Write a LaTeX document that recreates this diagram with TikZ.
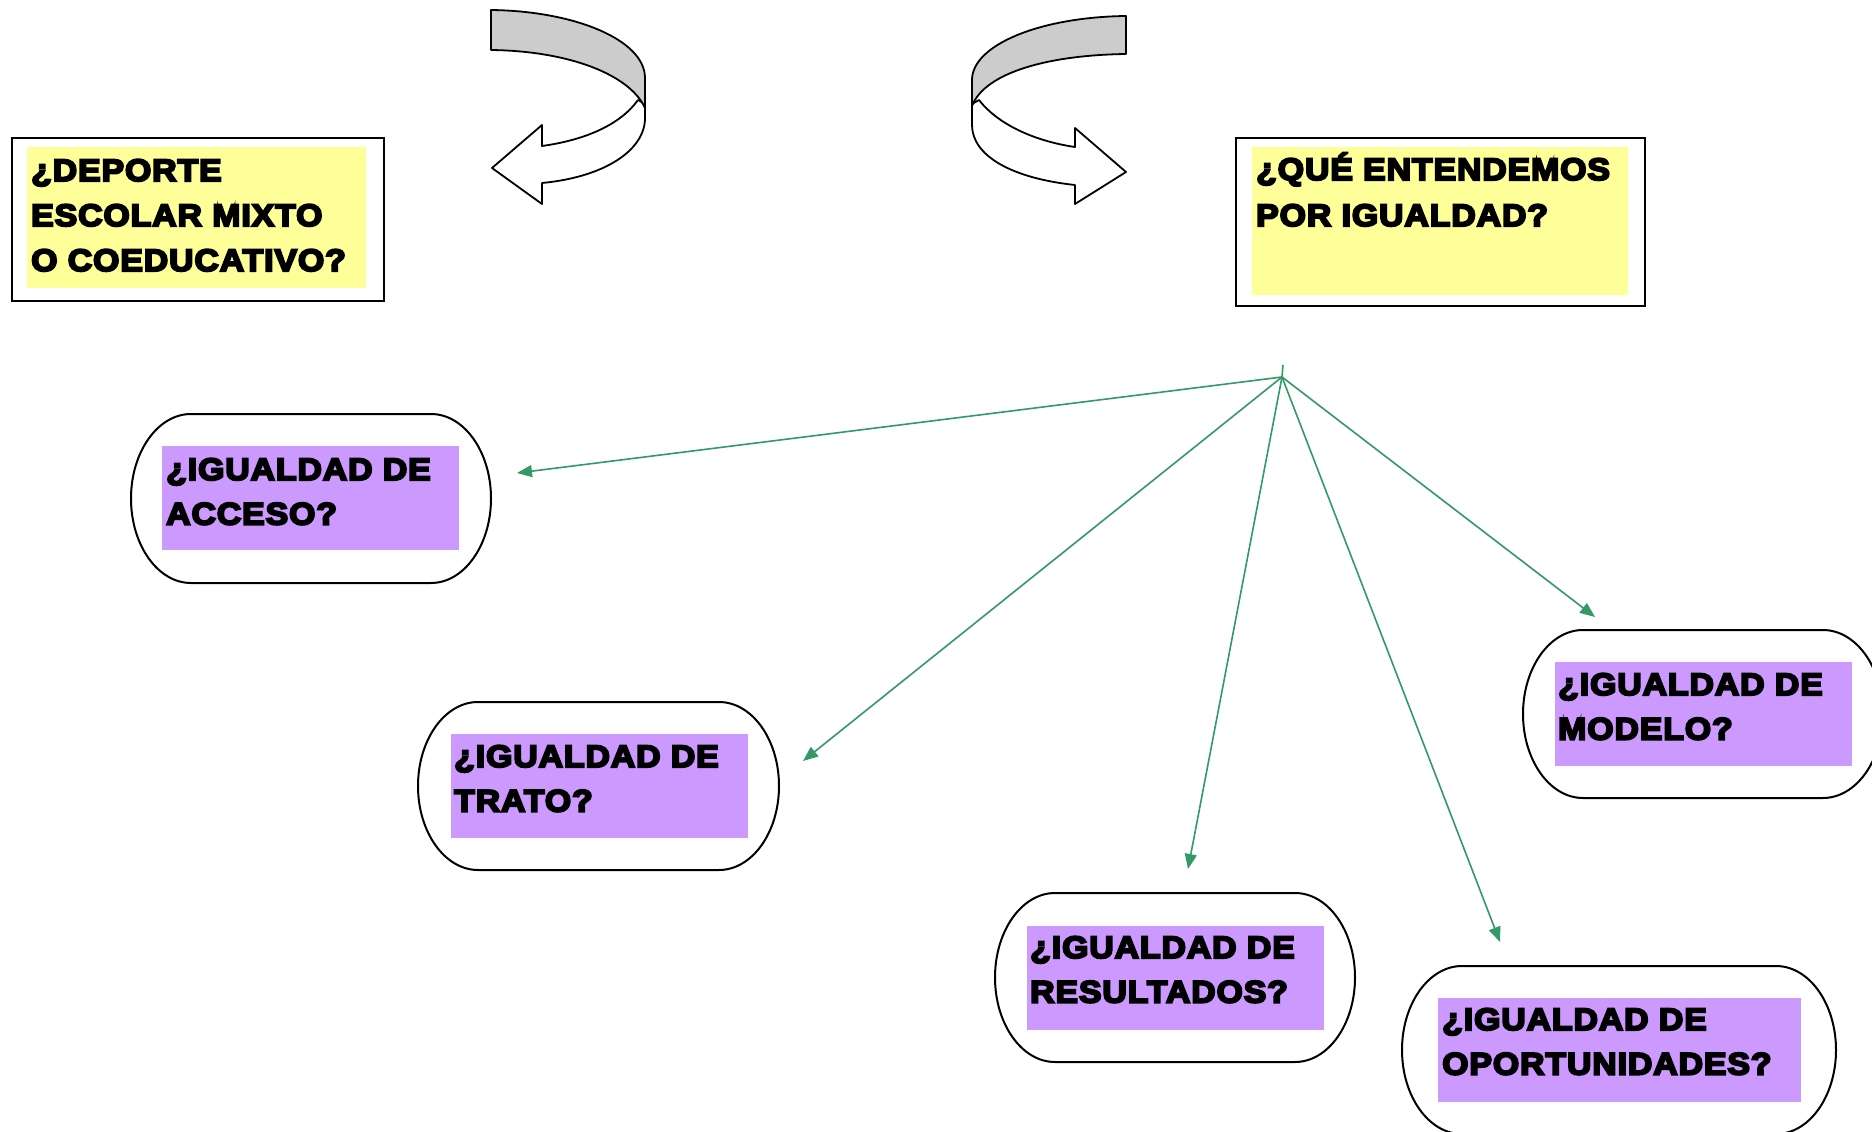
\documentclass[tikz,border=0pt]{standalone}
\usepackage{fontspec}
\usetikzlibrary{arrows.meta}
\newfontfamily\heavy{Liberation Sans Bold}[FakeBold=6.5,FakeStretch=1.09,LetterSpace=3]
\definecolor{yel}{HTML}{FFFF99}
\definecolor{pur}{HTML}{CC99FF}
\definecolor{grn}{HTML}{339966}
\definecolor{gry}{HTML}{CCCCCC}
\newcommand\mystadium[4]{%
 \pgfmathsetmacro\sa{#1+60}\pgfmathsetmacro\sb{#3-60}%
 \pgfmathsetmacro\ym{(#2+#4)/2}%
 \pgfmathsetmacro\ka{#1+60-33.1}\pgfmathsetmacro\kb{#3-60+33.1}%
 \pgfmathsetmacro\rk{(#4-#2)/2*0.5523}%
 \pgfmathsetmacro\yu{\ym-\rk}\pgfmathsetmacro\yd{\ym+\rk}%
 \draw[stadline] (\sa,#2) -- (\sb,#2) .. controls (\kb,#2) and (#3,\yu) .. (#3,\ym)
   .. controls (#3,\yd) and (\kb,#4) .. (\sb,#4) -- (\sa,#4)
   .. controls (\ka,#4) and (#1,\yd) .. (#1,\ym) .. controls (#1,\yu) and (\ka,#2) .. cycle;}
\begin{document}
\begin{tikzpicture}[x=1pt,y=-1pt,
  outerbox/.style={draw=black,line width=2pt,fill=white,anchor=north west,inner sep=0pt},
  yelbox/.style={fill=yel,anchor=north west,inner sep=0pt},
  purbox/.style={fill=pur,anchor=north west,inner sep=0pt},
  stadline/.style={draw=black,line width=2pt,fill=white},
  txt/.style={anchor=base west,inner sep=0pt,font=\heavy\fontsize{31}{44.5}\selectfont},
  conn/.style={draw=grn,line width=1.6pt,-{Triangle[length=15pt,width=12pt]}},
  band/.style={draw=black,line width=1.8pt,line join=round}]
\useasboundingbox (0,0) rectangle (1872,1132);
\clip (0,0) rectangle (1872,1132);
\fill[white] (0,0) rectangle (1872,1132);

% curved arrow left
\path[band,fill=white] (638,100) .. controls (620,125) and (585,140) .. (542,146) -- (542,125) -- (492,168)
  -- (542,204) -- (542,183) .. controls (605,177) and (645,150) .. (645,118) -- (645,104) -- cycle;
\path[band,fill=gry] (491,10) .. controls (575,11) and (645,40) .. (645,78) -- (645,108)
  .. controls (630,75) and (570,51) .. (491,50) -- cycle;
% curved arrow right
\path[band,fill=white] (979,100) .. controls (1000,127) and (1040,142) .. (1075,147) -- (1075,128) -- (1126,172)
  -- (1075,204) -- (1075,185) .. controls (1010,178) and (972,155) .. (972,125) -- (972,104) -- cycle;
\path[band,fill=gry] (1126,16) .. controls (1040,17) and (972,45) .. (972,80) -- (972,106)
  .. controls (985,72) and (1050,55) .. (1126,54) -- cycle;

% top boxes
\node[outerbox,minimum width=372pt,minimum height=163pt] (deporte) at (11,137) {};
\node[yelbox,minimum width=339pt,minimum height=141pt] (deporteY) at (27,147) {};
\node[txt] (deporteT) at (31,181) {\vtop{\baselineskip=45pt\hbox{¿DEPORTE}\hbox{ESCOLAR MIXTO}\hbox{O COEDUCATIVO?}}};

\node[outerbox,minimum width=409pt,minimum height=168pt] (igualdad) at (1235,137) {};
\node[yelbox,minimum width=376pt,minimum height=148pt] (igualdadY) at (1252,147) {};
\node[txt] (igualdadT) at (1256,180) {\vtop{\baselineskip=46pt\hbox{¿QUÉ ENTENDEMOS}\hbox{POR IGUALDAD?}}};

% stadiums
\mystadium{131}{414}{491}{583}
\node[purbox,minimum width=297pt,minimum height=104pt] (accesoP) at (162,446) {};
\node[txt] (acceso) at (166,480) {\vtop{\baselineskip=44.5pt\hbox{¿IGUALDAD DE}\hbox{ACCESO?}}};

\mystadium{418}{702}{779}{870}
\node[purbox,minimum width=297pt,minimum height=104pt] (tratoP) at (451,734) {};
\node[txt] (trato) at (454,767) {\vtop{\baselineskip=44.5pt\hbox{¿IGUALDAD DE}\hbox{TRATO?}}};

\mystadium{995}{893}{1355}{1062}
\node[purbox,minimum width=297pt,minimum height=104pt] (resultadosP) at (1027,926) {};
\node[txt] (resultados) at (1030,958) {\vtop{\baselineskip=44.5pt\hbox{¿IGUALDAD DE}\hbox{RESULTADOS?}}};

\mystadium{1402}{966}{1836}{1134}
\node[purbox,minimum width=363pt,minimum height=104pt] (oportunidadesP) at (1438,998) {};
\node[txt] (oportunidades) at (1442,1030) {\vtop{\baselineskip=44.5pt\hbox{¿IGUALDAD DE}\hbox{OPORTUNIDADES?}}};

\mystadium{1523}{630}{1883}{798}
\node[purbox,minimum width=297pt,minimum height=104pt] (modeloP) at (1555,662) {};
\node[txt] (modelo) at (1558,695) {\vtop{\baselineskip=44.5pt\hbox{¿IGUALDAD DE}\hbox{MODELO?}}};

% connectors
\coordinate (hub) at (1282,377);
\coordinate (stub) at (1283,365);
\coordinate (tAcc) at (517,473);
\coordinate (tTra) at (803,761);
\coordinate (tRes) at (1188,869);
\coordinate (tOpo) at (1500,942);
\coordinate (tMod) at (1595,617);
\draw[draw=grn,line width=1.6pt] (hub) -- (stub);
\draw[conn] (hub) -- (tAcc);
\draw[conn] (hub) -- (tTra);
\draw[conn] (hub) -- (tRes);
\draw[conn] (hub) -- (tOpo);
\draw[conn] (hub) -- (tMod);
\end{tikzpicture}
\end{document}
